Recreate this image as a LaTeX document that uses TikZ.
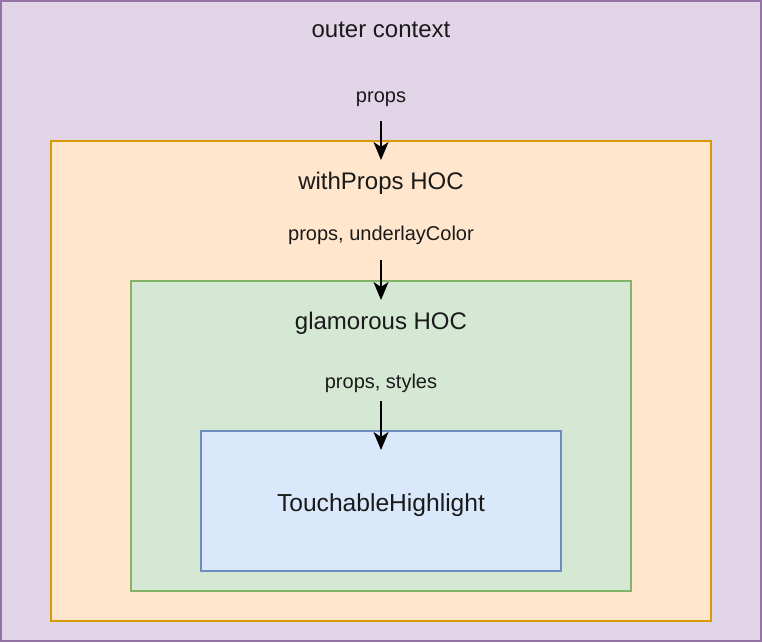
\documentclass[tikz,border=0pt]{standalone}
\usepackage{fontspec}
\setmainfont{Liberation Sans}
\usetikzlibrary{arrows.meta}
\definecolor{pfill}{HTML}{E1D5E7}\definecolor{pdraw}{HTML}{9673A6}
\definecolor{ofill}{HTML}{FFE6CC}\definecolor{odraw}{HTML}{D79B00}
\definecolor{gfill}{HTML}{D5E8D4}\definecolor{gdraw}{HTML}{82B366}
\definecolor{bfill}{HTML}{DAE8FC}\definecolor{bdraw}{HTML}{6C8EBF}
\definecolor{txt}{HTML}{1A1A1A}
\begin{document}
\begin{tikzpicture}[x=1pt,y=-1pt,
  box/.style={draw,line width=2pt,inner sep=0pt,outer sep=0pt},
  title/.style={anchor=base,inner sep=0pt,text=txt,font=\fontsize{24}{28}\selectfont},
  lbl/.style={anchor=base,inner sep=0pt,text=txt,font=\fontsize{20}{24}\selectfont},
  flow/.style={line width=2pt,-{Stealth[length=18pt,width=15pt,inset=5pt]}}]
\useasboundingbox (0,0) rectangle (762,642);
\path[box,fill=pfill,draw=pdraw] (1,1) rectangle (761,641);
\path[box,fill=ofill,draw=odraw] (51,141) rectangle (711,621);
\path[box,fill=gfill,draw=gdraw] (131,281) rectangle (631,591);
\path[box,fill=bfill,draw=bdraw] (201,431) rectangle (561,571);
\node[title] (outer) at (381,37.7) {outer context};
\node[lbl] (l1) at (381,102.3) {props};
\node[title] (withprops) at (381,189) {withProps HOC};
\node[lbl] (l2) at (381,240.3) {props, underlayColor};
\node[title] (glam) at (381,329) {glamorous HOC};
\node[lbl] (l3) at (381,388.3) {props, styles};
\node[anchor=base,inner sep=0pt,text=txt,font=\fontsize{24.6}{28}\selectfont] (th) at (381,511.7) {TouchableHighlight};
\coordinate (a1s) at (381,121); \coordinate (a1e) at (381,160);
\coordinate (a2s) at (381,260); \coordinate (a2e) at (381,300);
\coordinate (a3s) at (381,401); \coordinate (a3e) at (381,450);
\draw[flow] (a1s) -- (a1e);
\draw[flow] (a2s) -- (a2e);
\draw[flow] (a3s) -- (a3e);
\end{tikzpicture}
\end{document}
